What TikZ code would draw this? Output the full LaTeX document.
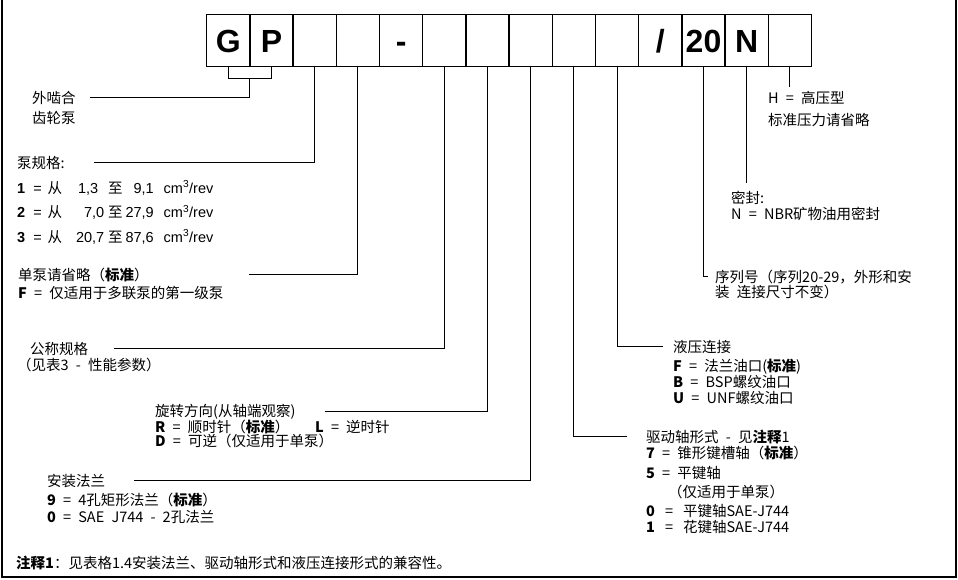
\documentclass[tikz,border=0pt]{standalone}
\usepackage{fontspec}
\setmainfont{Liberation Sans}
\newfontfamily\cjk[WordSpace=2.2]{Noto Sans CJK SC}
\usetikzlibrary{positioning,calc}

\newcommand{\sizerow}[3]{\textbf{#1}\hspace{8pt}=\hspace{6pt}{\cjk 从}\makebox[42pt][r]{#2}\hspace{4pt}{\cjk 至}\makebox[31pt][r]{#3}\hspace{10pt}cm\textsuperscript{3}/rev}

\tikzset{
  cell/.style={draw, line width=1.3pt, minimum width=43.2pt, minimum height=52.4pt,
    inner sep=0pt, text height=23pt, text depth=0pt, font=\bfseries\fontsize{32}{32}\selectfont},
  lbl/.style={anchor=base west, inner sep=0pt, font=\cjk\fontsize{14.5}{16}\selectfont},
  lead/.style={line width=1.1pt},
}

\begin{document}
\begin{tikzpicture}[x=1pt,y=-1pt]
    \useasboundingbox (0,0) rectangle (958,579);
    % Frame
    \draw[line width=1.2pt] (2,0) -- (2,577) -- (956,577) -- (956,0);
    % Code boxes
    \foreach \t [count=\i] in {G,P,{},{},-,{},{},{},{},{},/,20,N,{}}
      \node[cell] (c\i) at ({206.7+43.2*(\i-0.5)},40.5) {\t};

    % Left labels
    \node[lbl] (ext) at (32,103) {外啮合};
    \node[lbl] (ext2) at (32,123) {齿轮泵};
    \node[lbl] (size) at (17,168) {泵规格:};
    \node[lbl, font=\fontsize{14.5}{24.5}\selectfont] (sizes) at (17,193)
      {\begin{tabular}[t]{@{}l@{}}
        \sizerow{1}{1,3\hspace{6pt}}{9,1}\\
        \sizerow{2}{7,0}{27,9}\\
        \sizerow{3}{20,7}{87,6}
      \end{tabular}};
    \node[lbl] (single) at (18,280) {单泵请省略（\textbf{标准}）};
    \node[lbl] (single2) at (18,298) {\textbf{F} = 仅适用于多联泵的第一级泵};
    \node[lbl] (nominal) at (30,354) {公称规格};
    \node[lbl] (nominal2) at (17,370) {（见表3 - 性能参数）};
    \node[lbl] (rot) at (155,416) {旋转方向(从轴端观察)};
    \node[lbl] (rot2) at (155,432) {\makebox[160pt][l]{\textbf{R} = 顺时针（\textbf{标准}）}\textbf{L} = 逆时针};
    \node[lbl] (rot3) at (155,446) {\textbf{D} = 可逆（仅适用于单泵）};
    \node[lbl] (flange) at (47,486) {安装法兰};
    \node[lbl] (flange2) at (47,505) {\textbf{9} = 4孔矩形法兰（\textbf{标准}）};
    \node[lbl] (flange3) at (47,522) {\textbf{0} = SAE J744 - 2孔法兰};

    % Right labels
    \node[lbl] (hp) at (768,103) {H = 高压型};
    \node[lbl] (hp2) at (768,125) {标准压力请省略};
    \node[lbl] (seal) at (731,203) {密封:};
    \node[lbl] (seal2) at (731,219) {N = NBR矿物油用密封};
    \node[lbl] (series) at (715,282) {序列号（序列20-29，外形和安};
    \node[lbl] (series2) at (715,297) {装 连接尺寸不变）};
    \node[lbl] (hyd) at (673,352) {液压连接};
    \node[lbl] (hyd2) at (673,371) {\textbf{F} = 法兰油口(\textbf{标准})};
    \node[lbl] (hyd3) at (673,387) {\textbf{B} = BSP螺纹油口};
    \node[lbl] (hyd4) at (673,403) {\textbf{U} = UNF螺纹油口};
    \node[lbl] (shaft) at (646,442) {驱动轴形式 - 见\textbf{注释}1};
    \node[lbl] (shaft2) at (646,458) {\textbf{7} = 锥形键槽轴（\textbf{标准}）};
    \node[lbl] (shaft3) at (646,478) {\textbf{5} = 平键轴};
    \node[lbl] (shaft4) at (668,497) {（仅适用于单泵）};
    \node[lbl] (shaft5) at (646,516) {\textbf{0}\hspace{10pt}=\hspace{10pt}平键轴SAE-J744};
    \node[lbl] (shaft6) at (646,532) {\textbf{1}\hspace{10pt}=\hspace{10pt}花键轴SAE-J744};

    % Note
    \node[lbl] (note) at (16,568) {\textbf{注释1}：见表格1.4安装法兰、驱动轴形式和液压连接形式的兼容性。};

    % Leaders
    \draw[lead] (c1.south) -- ++(0,11) -| (c2.south);
    \coordinate (gpmid) at ($(c1.south)!0.5!(c2.south)+(0,11)$);
    \draw[lead] (gpmid) |- (ext -| 90,0);
    \draw[lead] (c3.south) |- (size -| 94,0);
    \draw[lead] (c4.south) |- (single -| 249,0);
    \draw[lead] (c6.south) |- (nominal -| 114,0);
    \draw[lead] (c7.south) |- (rot -| 325,0);
    \draw[lead] (c8.south) |- (flange -| 134,0);
    \draw[lead] (c9.south) |- (shaft -| 627,0);
    \draw[lead] (c10.south) |- (hyd -| 663,0);
    \draw[lead] (c12.south) |- (series -| 708,0);
    \draw[lead] (c13.south) -- ++(0,116);
    \draw[lead] (c14.south) -- ++(0,20);
  \end{tikzpicture}
\end{document}
